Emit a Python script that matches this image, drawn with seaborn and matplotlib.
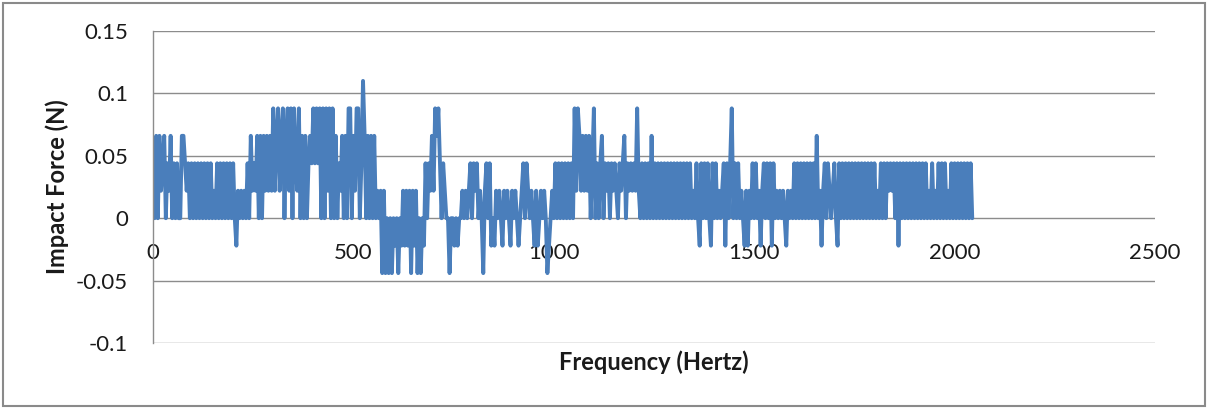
import numpy as np
import pandas as pd
import seaborn as sns
import matplotlib.pyplot as plt
from matplotlib.patches import Rectangle

sns.set_theme(style="white")
plt.rcParams['font.family'] = ['Lato', 'DejaVu Sans']
plt.rcParams['path.simplify'] = False

# Quantised force levels of the sensor (N); each code character below indexes this list
FORCE_LEVELS = [-0.044, -0.022, 0.0, 0.022, 0.044, 0.066, 0.088, 0.11]
BIN_WIDTH_HZ = 4

# Spectrum bins 0-129
codes_low = (
    "4252534524" "3524242255" "4342424242" "4242424232" "4242424242"
    "4213232324" "2534352525" "3535363563" "5625636264" "3625252454"
    "6464626263" "6262524352" "5266253662"
)
# Spectrum bins 130-259
codes_mid = (
    "4752525252" "3230302020" "2120213131" "3031302021" "4243536564"
    "2432202212" "1223232342" "4342320342" "4121323213" "2321323212"
    "3424323213" "1232320123" "2424242424"
)
# Spectrum bins 260-389
codes_upper = (
    "2426365353" "5352462424" "5243424343" "2434524343" "4363242424"
    "2524242424" "2424242424" "2424242324" "2142424214" "2423234142"
    "4624242321" "3132424231" "3424241423"
)
# Spectrum bins 390-511
codes_high = (
    "2323213232" "4242424242" "4242523134" "2432342142" "4242424242"
    "4242424242" "4232424243" "4342414242" "4242424242" "4242324232"
    "4242423242" "424242424242"
)

X_TICKS = [0, 500, 1000, 1500, 2000, 2500]
Y_TICKS = [-0.1, -0.05, 0, 0.05, 0.1, 0.15]
Y_TICK_LABELS = ["-0.1", "-0.05", "0", "0.05", "0.1", "0.15"]

codes = codes_low + codes_mid + codes_upper + codes_high
force = [FORCE_LEVELS[int(c)] for c in codes]
freq = np.arange(len(force)) * BIN_WIDTH_HZ
df = pd.DataFrame({"Frequency (Hertz)": freq, "Impact Force (N)": force})

W, H = 1208, 409
fig = plt.figure(figsize=(W / 100, H / 100), dpi=100)
ax = fig.add_axes([153 / W, 1 - 343 / H, (1155 - 153) / W, (343 - 31) / H])

sns.lineplot(data=df, x="Frequency (Hertz)", y="Impact Force (N)", ax=ax,
             color="#4A7EBB", linewidth=2.8, estimator=None, sort=False)

ax.set_xlim(0, 2500)
ax.set_ylim(-0.1, 0.15)
ax.set_xticks(X_TICKS)
ax.set_xticklabels([str(t) for t in X_TICKS])
ax.set_yticks(Y_TICKS)
ax.set_yticklabels(Y_TICK_LABELS)

ax.grid(axis="y", color="#8c8c8c", linewidth=1.0)
ax.grid(axis="x", visible=False)
ax.set_axisbelow(True)

for side in ("top", "right"):
    ax.spines[side].set_visible(False)
ax.spines["left"].set_color("#8c8c8c")
ax.spines["left"].set_linewidth(1.0)
ax.spines["bottom"].set_position(("data", 0))
ax.spines["bottom"].set_visible(False)

ax.tick_params(axis="x", length=0, pad=18, labelsize=16, labelcolor="#1a1a1a")
ax.tick_params(axis="y", length=0, pad=18, labelsize=16, labelcolor="#1a1a1a")

ax.set_xlabel("")
ax.set_ylabel("")
fig.text(654 / W, 1 - 362 / H, "Frequency (Hertz)", ha="center", va="center",
         fontsize=17, fontweight="bold", color="#1a1a1a")
fig.text(57 / W, 1 - 187 / H, "Impact Force (N)", ha="center", va="center",
         rotation=90, fontsize=17, fontweight="bold", color="#1a1a1a")

fig.patches.append(Rectangle((3 / W, 3 / H), (W - 6) / W, (H - 6) / H,
                             transform=fig.transFigure, fill=False,
                             edgecolor="#8a8a8a", linewidth=1.5))

fig.savefig("out.png", dpi=100, facecolor="white")
